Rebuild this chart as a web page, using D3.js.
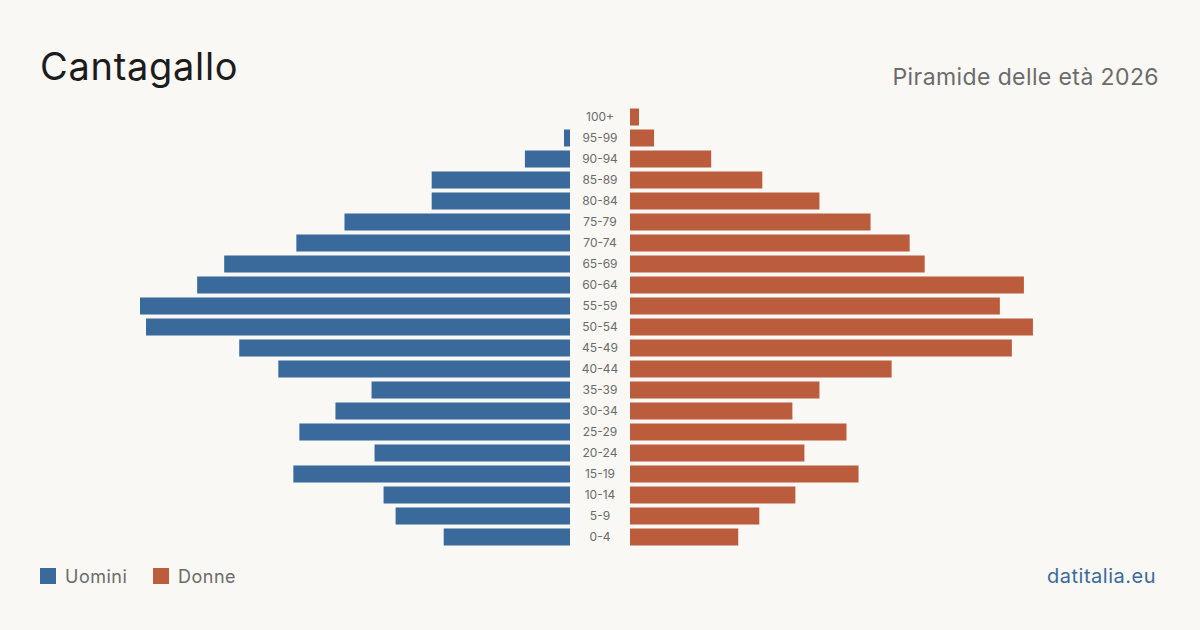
<!DOCTYPE html>
<html>
<head>
<meta charset="utf-8">
<script src="https://cdn.jsdelivr.net/npm/d3@7"></script>
<style>
  body { margin: 0; background: #f9f8f4; }
  svg { display: block; font-family: Inter, "Noto Sans", sans-serif; }
</style>
</head>
<body>
<div id="chart"></div>
<script>
// age groups, top to bottom
const ageGroups = ["100+","95-99","90-94","85-89","80-84","75-79","70-74","65-69","60-64","55-59",
  "50-54","45-49","40-44","35-39","30-34","25-29","20-24","15-19","10-14","5-9","0-4"];
const men   = [0, 2, 15, 46, 46, 75, 91, 115, 124, 143, 141, 110, 97, 66, 78, 90, 65, 92, 62, 58, 42];
const women = [3, 8, 27, 44, 63, 80, 93, 98, 131, 123, 134, 127, 87, 63, 54, 72, 58, 76, 55, 43, 36];

const width = 1200, height = 630;
const blue = "#3a6a9b", red = "#bb5d3d";

const svg = d3.select("#chart").append("svg")
    .attr("width", width)
    .attr("height", height);

svg.append("rect").attr("width", width).attr("height", height).attr("fill", "#f9f8f4");

const maxVal = d3.max(men.concat(women));

const y = d3.scaleBand()
    .domain(ageGroups)
    .range([106.5, 547.5])
    .paddingInner(0.19)
    .paddingOuter(0.095);

const xLeft = d3.scaleLinear().domain([0, maxVal]).range([570, 140]);
const xRight = d3.scaleLinear().domain([0, maxVal]).range([630, 1060]);

// men bars
svg.append("g")
    .attr("fill", blue)
    .selectAll("rect")
    .data(ageGroups)
    .join("rect")
    .attr("x", (d, i) => xLeft(men[i]))
    .attr("y", d => y(d))
    .attr("width", (d, i) => xLeft(0) - xLeft(men[i]))
    .attr("height", y.bandwidth());

// women bars
svg.append("g")
    .attr("fill", red)
    .selectAll("rect")
    .data(ageGroups)
    .join("rect")
    .attr("x", xRight(0))
    .attr("y", d => y(d))
    .attr("width", (d, i) => xRight(women[i]) - xRight(0))
    .attr("height", y.bandwidth());

// age labels in the middle
svg.append("g")
    .selectAll("text")
    .data(ageGroups)
    .join("text")
    .attr("x", 600)
    .attr("y", d => y(d) + y.bandwidth() / 2)
    .attr("dy", "0.35em")
    .attr("text-anchor", "middle")
    .attr("font-size", 12)
    .attr("fill", "#6b6b6b")
    .text(d => d);

// title
svg.append("text")
    .attr("x", 40).attr("y", 80)
    .attr("font-size", 38)
    .attr("letter-spacing", 0.7)
    .attr("fill", "#1c1c1c")
    .text("Cantagallo");

svg.append("text")
    .attr("x", 1159).attr("y", 85)
    .attr("text-anchor", "end")
    .attr("font-size", 23)
    .attr("letter-spacing", 0.4)
    .attr("fill", "#6b6b6b")
    .text("Piramide delle età 2026");

// legend
const legend = [["Uomini", blue, 40], ["Donne", red, 153]];
const lg = svg.append("g").selectAll("g").data(legend).join("g")
    .attr("transform", d => `translate(${d[2]},568)`);
lg.append("rect").attr("width", 16).attr("height", 16).attr("fill", d => d[1]);
lg.append("text")
    .attr("x", 25).attr("y", 14.5)
    .attr("font-size", 18)
    .attr("letter-spacing", 0.5)
    .attr("fill", "#6b6b6b")
    .text(d => d[0]);

svg.append("text")
    .attr("x", 1156).attr("y", 583)
    .attr("text-anchor", "end")
    .attr("font-size", 20)
    .attr("letter-spacing", 0.5)
    .attr("fill", blue)
    .text("datitalia.eu");
</script>
</body>
</html>
